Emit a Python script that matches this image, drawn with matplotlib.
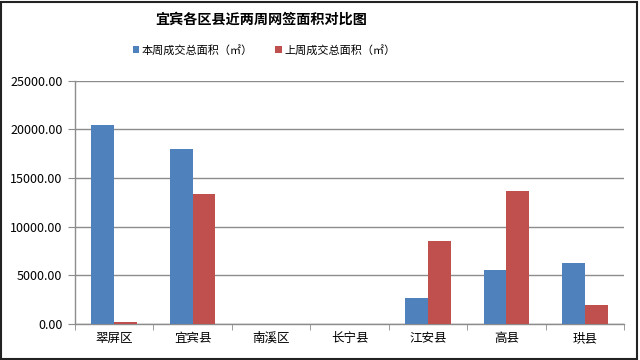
import matplotlib
matplotlib.use("Agg")
import matplotlib.pyplot as plt
import numpy as np
from matplotlib.patches import Rectangle
from matplotlib.ticker import FuncFormatter, FixedLocator

plt.rcParams['font.family'] = ['Noto Sans CJK SC', 'DejaVu Sans']

title = "宜宾各区县近两周网签面积对比图"
categories = ["翠屏区", "宜宾县", "南溪区", "长宁县", "江安县", "高县", "珙县"]
series_names = ["本周成交总面积（㎡）", "上周成交总面积（㎡）"]
this_week = [20500, 18020, 0, 0, 2650, 5550, 6250]
last_week = [160, 13400, 0, 0, 8520, 13700, 1950]
y_ticks = [0, 5000, 10000, 15000, 20000, 25000]

blue = "#4F81BD"
red = "#C0504D"

fig = plt.figure(figsize=(6.4, 3.6), dpi=100)
ax = fig.add_axes([75/640, 1-323.7/360, (624-75)/640, (323.7-80.9)/360])

x = np.arange(len(categories))
w = 0.29
b1 = ax.bar(x - w/2, this_week, w, color=blue, label=series_names[0], zorder=3)
b2 = ax.bar(x + w/2, last_week, w, color=red, label=series_names[1], zorder=3)

ax.set_xlim(-0.5, len(categories) - 0.5)
ax.set_ylim(0, 25000)
ax.set_yticks(y_ticks)
ax.yaxis.set_major_formatter(FuncFormatter(lambda v, p: f"{v:.2f}"))
ax.grid(axis='y', color='#8C8C8C', linewidth=1.0, zorder=0)
ax.set_axisbelow(True)

ax.set_xticks(x)
ax.set_xticklabels(categories, fontsize=9)
ax.tick_params(axis='x', which='major', length=0, pad=6)
ax.xaxis.set_minor_locator(FixedLocator(np.arange(-0.5, len(categories), 1.0)))
ax.tick_params(axis='x', which='minor', length=4, color='#8C8C8C', direction='out')
ax.tick_params(axis='y', length=5, color='#8C8C8C', direction='out', labelsize=9, pad=4)

for s in ['top', 'right']:
    ax.spines[s].set_visible(False)
for s in ['left', 'bottom']:
    ax.spines[s].set_color('#8C8C8C')
    ax.spines[s].set_linewidth(1.0)

fig.text(261/640, 1-20/360, title, ha='center', va='center', fontsize=10.2, fontweight='bold')

leg = fig.legend(handles=[b1, b2], labels=series_names, loc='center', bbox_to_anchor=(264/640, 1-50/360),
                 ncol=2, frameon=False, fontsize=8, handlelength=0.6, handleheight=0.6,
                 handletextpad=0.2, columnspacing=2.0)

fig.patches.append(Rectangle((0.002, 0.004), 0.994, 0.99, transform=fig.transFigure,
                             fill=False, edgecolor='#222222', linewidth=1.5))

fig.savefig("out.png", dpi=100)
